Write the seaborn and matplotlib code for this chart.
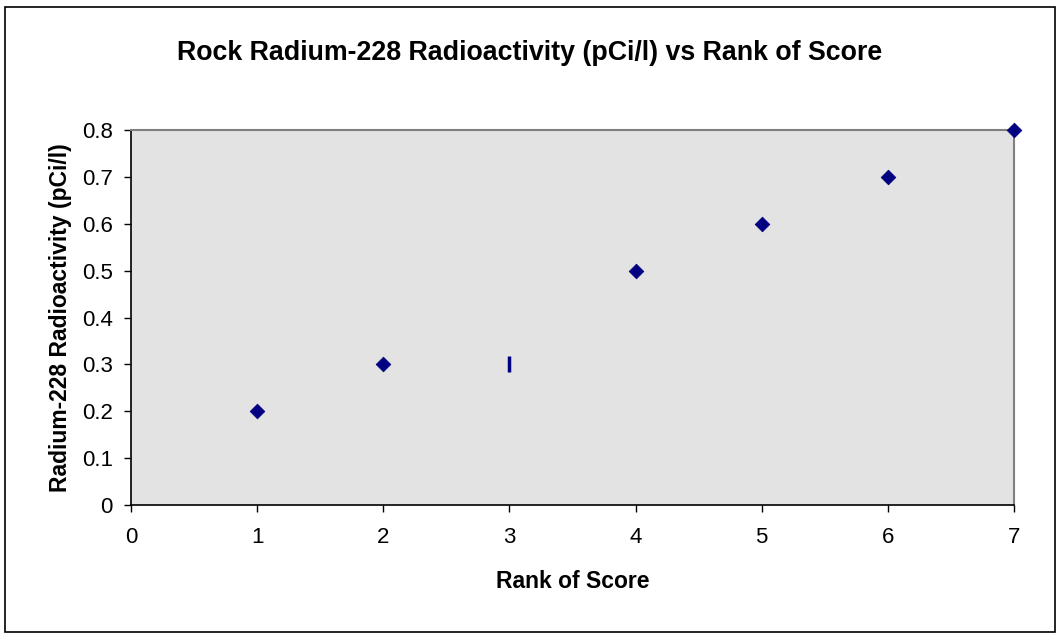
import matplotlib
matplotlib.use("Agg")
import matplotlib.pyplot as plt
import seaborn as sns
import pandas as pd
from matplotlib.patches import Rectangle

# ---------------- DATA ----------------
rank = [1, 2, 4, 5, 6, 7]
radium = [0.2, 0.3, 0.5, 0.6, 0.7, 0.8]
odd_rank = [3]
odd_radium = [0.3]

df = pd.DataFrame({"rank": rank, "radium": radium})
odd_df = pd.DataFrame({"rank": odd_rank, "radium": odd_radium})

sns.set_theme(style="white")
plt.rcParams["font.family"] = ["Liberation Sans", "DejaVu Sans"]
plt.rcParams["text.color"] = "black"
plt.rcParams["axes.labelcolor"] = "black"

fig = plt.figure(figsize=(10.61, 6.4), dpi=100)
ax = fig.add_axes([131 / 1061, 1 - 505 / 640, (1014 - 131) / 1061, (505 - 130) / 640])

# outer chart border
fig.patches.append(Rectangle((5 / 1061, 1 - 632 / 640), 1050 / 1061, 625 / 640,
                             transform=fig.transFigure, fill=False,
                             edgecolor="black", linewidth=1.2))

ax.set_facecolor("#e3e3e3")
sns.scatterplot(data=df, x="rank", y="radium", marker="D", s=55,
                color="#000080", edgecolor="#000080", ax=ax, clip_on=False, zorder=5)
sns.scatterplot(data=odd_df, x="rank", y="radium", marker="|", s=130,
                color="#000080", linewidth=2.5, ax=ax, clip_on=False, zorder=5)

ax.set_xlim(0, 7)
ax.set_ylim(0, 0.8)
ax.set_xticks(range(0, 8))
ax.set_yticks([0, 0.1, 0.2, 0.3, 0.4, 0.5, 0.6, 0.7, 0.8])
ax.set_yticklabels(["0", "0.1", "0.2", "0.3", "0.4", "0.5", "0.6", "0.7", "0.8"])
ax.tick_params(axis="both", direction="out", length=5, width=1, colors="black",
               labelsize=16, bottom=True, left=True)
ax.tick_params(axis="x", pad=11)
ax.tick_params(axis="y", pad=8)

for side in ["left", "bottom"]:
    ax.spines[side].set_color("black")
    ax.spines[side].set_linewidth(1.2)
for side in ["top", "right"]:
    ax.spines[side].set_color("#808080")
    ax.spines[side].set_linewidth(1.5)

ax.set_xlabel("Rank of Score", fontsize=16.5, fontweight="bold", labelpad=16)
ax.set_ylabel("Radium-228 Radioactivity (pCi/l)", fontsize=16.5, fontweight="bold", labelpad=7)
fig.text(530 / 1061, 1 - 53 / 640, "Rock Radium-228 Radioactivity (pCi/l) vs Rank of Score",
         ha="center", va="center", fontsize=19.3, fontweight="bold")

fig.savefig("out.png", dpi=100, facecolor="white")
